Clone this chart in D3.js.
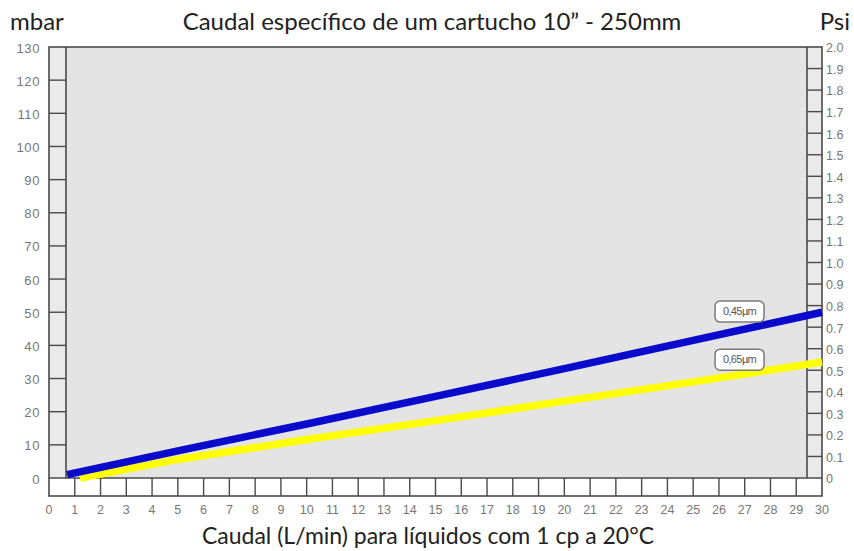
<!DOCTYPE html>
<html>
<head>
<meta charset="utf-8">
<script src="https://cdn.jsdelivr.net/npm/d3@7"></script>
<style>
  html, body { margin: 0; padding: 0; background: #fff; }
  svg { display: block; }
</style>
</head>
<body>
<svg id="chart" width="854" height="551"></svg>
<script>
// Flow rate (L/min) vs pressure drop (mbar) for 10" cartridges
const flowTicks = d3.range(0, 31);
const mbarTicks = d3.range(0, 131, 10);
const psiTicks = ["0", "0.1", "0.2", "0.3", "0.4", "0.5", "0.6", "0.7", "0.8", "0.9", "1.0",
                  "1.1", "1.2", "1.3", "1.4", "1.5", "1.6", "1.7", "1.8", "1.9", "2.0"];

const flow045 = [0.7, 5, 10, 15, 20, 25, 30];
const drop045 = [1, 8.2, 16.3, 24.6, 33, 41.5, 50];

const flow065 = [1.2, 5, 10, 15, 20, 25, 30];
const drop065 = [0, 5.6, 11.6, 17.3, 23.2, 29, 35];

const seriesNames = ["0,45µm", "0,65µm"];
const seriesColors = ["#0a0acc", "#ffff00"];
const labelAt = [[26.8, 50.2], [26.8, 35.7]];

const svg = d3.select("#chart");

const xLeft = 49, xRight = 822, yTop = 47, yBottom = 478;
const innerLeft = 66, innerRight = 807, stripBottom = 496;

const x = d3.scaleLinear().domain([0, 30]).range([xLeft, xRight]);
const y = d3.scaleLinear().domain([0, 130]).range([yBottom, yTop]);
const yPsi = d3.scaleLinear().domain([0, 2]).range([yBottom, yTop]);

// Background panels
svg.append("rect").attr("x", innerLeft).attr("y", yTop)
  .attr("width", innerRight - innerLeft).attr("height", yBottom - yTop)
  .attr("fill", "#e4e4e4");
svg.append("rect").attr("x", xLeft).attr("y", yTop)
  .attr("width", innerLeft - xLeft).attr("height", yBottom - yTop)
  .attr("fill", "#eaeaea");
svg.append("rect").attr("x", innerRight).attr("y", yTop)
  .attr("width", xRight - innerRight).attr("height", yBottom - yTop)
  .attr("fill", "#eaeaea");
svg.append("rect").attr("x", xLeft).attr("y", yBottom)
  .attr("width", xRight - xLeft).attr("height", stripBottom - yBottom)
  .attr("fill", "#ffffff");

const stroke = "#4a4a4a";

// Left mbar strip ticks
svg.append("g").selectAll("line").data(mbarTicks.slice(1, -1)).join("line")
  .attr("x1", xLeft).attr("x2", innerLeft)
  .attr("y1", d => y(d)).attr("y2", d => y(d))
  .attr("stroke", stroke).attr("stroke-width", 1.4);

// Right psi strip ticks
svg.append("g").selectAll("line").data(psiTicks.slice(1, -1)).join("line")
  .attr("x1", innerRight).attr("x2", xRight)
  .attr("y1", (d, i) => yPsi((i + 1) / 10)).attr("y2", (d, i) => yPsi((i + 1) / 10))
  .attr("stroke", stroke).attr("stroke-width", 1.4);

// Bottom flow strip ticks
svg.append("g").selectAll("line").data(flowTicks.slice(1, -1)).join("line")
  .attr("x1", d => x(d)).attr("x2", d => x(d))
  .attr("y1", yBottom).attr("y2", stripBottom)
  .attr("stroke", stroke).attr("stroke-width", 1.4);

// Frame lines
const frame = svg.append("g").attr("stroke", stroke).attr("stroke-width", 1.6).attr("fill", "none");
frame.append("rect").attr("x", xLeft).attr("y", yTop)
  .attr("width", xRight - xLeft).attr("height", stripBottom - yTop);
frame.append("line").attr("x1", innerLeft).attr("x2", innerLeft).attr("y1", yTop).attr("y2", yBottom);
frame.append("line").attr("x1", innerRight).attr("x2", innerRight).attr("y1", yTop).attr("y2", yBottom);
frame.append("line").attr("x1", xLeft).attr("x2", xRight).attr("y1", yBottom).attr("y2", yBottom);

// Tick labels
const tickFont = "'Liberation Sans', Arial, sans-serif";
const tickColor = "#777";
svg.append("g").selectAll("text").data(mbarTicks).join("text")
  .attr("x", 40).attr("y", d => y(d) + 1).attr("dy", "0.35em")
  .attr("text-anchor", "end").attr("font-family", tickFont).attr("font-size", 13)
  .attr("letter-spacing", 0.6).attr("fill", tickColor).text(d => d);

svg.append("g").selectAll("text").data(psiTicks).join("text")
  .attr("x", 826).attr("y", (d, i) => yPsi(i / 10) + 1).attr("dy", "0.35em")
  .attr("text-anchor", "start").attr("font-family", tickFont).attr("font-size", 12.5)
  .attr("fill", tickColor).text(d => d);

svg.append("g").selectAll("text").data(flowTicks).join("text")
  .attr("x", d => x(d)).attr("y", 514)
  .attr("text-anchor", "middle").attr("font-family", tickFont).attr("font-size", 12.5)
  .attr("fill", tickColor).text(d => d);

// Series lines
const line = d3.line().x(d => x(d[0])).y(d => y(d[1]));
const seriesData = [
  flow065.map((f, i) => [f, drop065[i]]),
  flow045.map((f, i) => [f, drop045[i]])
];
const order = [1, 0];
seriesData.forEach((pts, k) => {
  const si = order[k];
  svg.append("path").datum(pts)
    .attr("d", line)
    .attr("fill", "none")
    .attr("stroke", seriesColors[si])
    .attr("stroke-width", 7.5)
    .attr("stroke-linecap", "butt");
});

// Series labels in rounded boxes
seriesNames.forEach((name, i) => {
  const cx = x(labelAt[i][0]), cy = y(labelAt[i][1]);
  const g = svg.append("g");
  g.append("rect").attr("x", cx - 24.5).attr("y", cy - 10.5)
    .attr("width", 49).attr("height", 21).attr("rx", 5)
    .attr("fill", "#ffffff").attr("stroke", "#7a7a7a").attr("stroke-width", 1.5);
  g.append("text").attr("x", cx).attr("y", cy).attr("dy", "0.35em")
    .attr("text-anchor", "middle").attr("font-family", tickFont)
    .attr("font-size", 11).attr("letter-spacing", -0.6).attr("fill", "#555").text(name);
});

// Titles
const titleFont = "Lato, 'Open Sans', sans-serif";
svg.append("text").attr("x", 432).attr("y", 30).attr("text-anchor", "middle")
  .attr("font-family", titleFont).attr("font-size", 24).attr("fill", "#222")
  .text("Caudal específico de um cartucho 10” - 250mm");
svg.append("text").attr("x", 10).attr("y", 30)
  .attr("font-family", titleFont).attr("font-size", 24).attr("fill", "#222").text("mbar");
svg.append("text").attr("x", 850).attr("y", 30).attr("text-anchor", "end")
  .attr("font-family", titleFont).attr("font-size", 24).attr("fill", "#222").text("Psi");
svg.append("text").attr("x", 428).attr("y", 544).attr("text-anchor", "middle")
  .attr("font-family", titleFont).attr("font-size", 23).attr("fill", "#222")
  .text("Caudal (L/min) para líquidos com 1 cp a 20°C");
</script>
</body>
</html>
